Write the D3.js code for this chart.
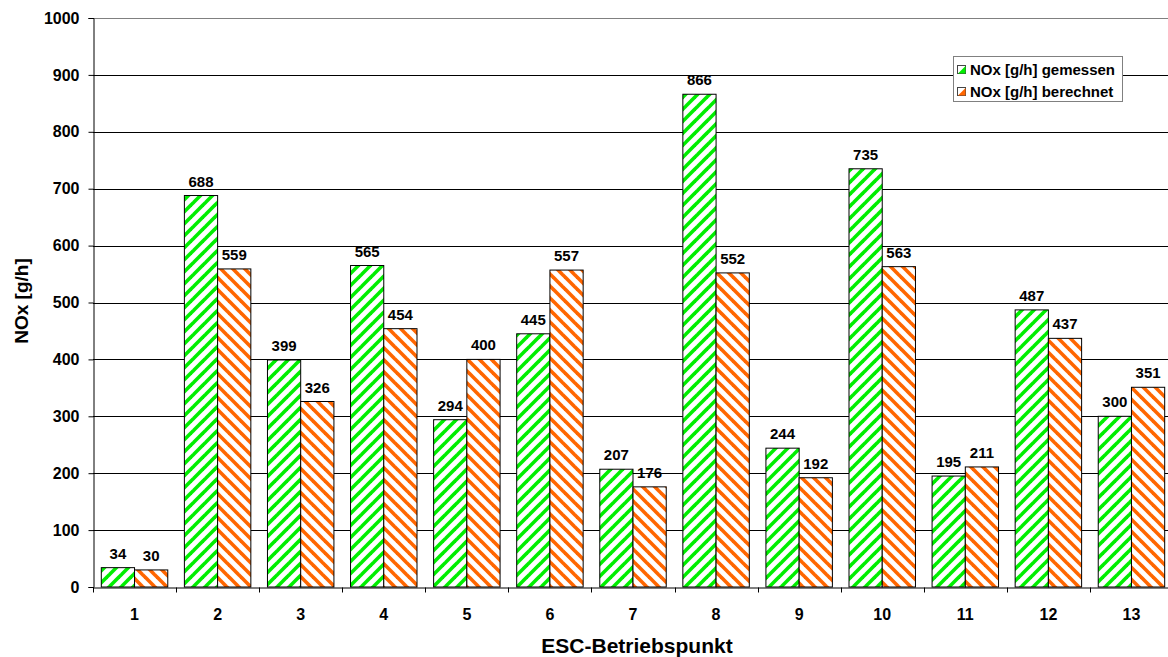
<!DOCTYPE html>
<html>
<head>
<meta charset="utf-8">
<script src="https://cdn.jsdelivr.net/npm/d3@7"></script>
<style>
  html, body { margin: 0; padding: 0; background: #fff; }
  svg { display: block; font-family: "Liberation Sans", Arial, sans-serif; font-weight: bold; }
</style>
</head>
<body>
<script>
// ESC operating points and NOx mass flow, measured vs. calculated
const categories = ["1","2","3","4","5","6","7","8","9","10","11","12","13"];
const gemessen   = [34, 688, 399, 565, 294, 445, 207, 866, 244, 735, 195, 487, 300];
const berechnet  = [30, 559, 326, 454, 400, 557, 176, 552, 192, 563, 211, 437, 351];
const seriesNames = ["NOx [g/h] gemessen", "NOx [g/h] berechnet"];
const yTicks = [0,100,200,300,400,500,600,700,800,900,1000];

const W = 1168, H = 657;
const margin = { left: 93, top: 18, right: 1173, bottom: 587 };
const FONT = "Liberation Sans, Arial, sans-serif";

const svg = d3.select("body").append("svg").attr("width", W).attr("height", H);

const defs = svg.append("defs");
function stripe(id, color, up) {
  const p = defs.append("pattern")
    .attr("id", id).attr("patternUnits", "userSpaceOnUse")
    .attr("width", 12).attr("height", 12);
  p.append("rect").attr("width", 12).attr("height", 12).attr("fill", "#fff");
  const g = p.append("g").attr("stroke", color).attr("stroke-width", 3.6);
  if (up) {
    g.append("line").attr("x1", -3).attr("y1", 15).attr("x2", 15).attr("y2", -3);
    g.append("line").attr("x1", -9).attr("y1", 9).attr("x2", 3).attr("y2", -3);
    g.append("line").attr("x1", 9).attr("y1", 15).attr("x2", 15).attr("y2", 9);
  } else {
    g.append("line").attr("x1", -3).attr("y1", -3).attr("x2", 15).attr("y2", 15);
    g.append("line").attr("x1", 9).attr("y1", -3).attr("x2", 15).attr("y2", 3);
    g.append("line").attr("x1", -3).attr("y1", 9).attr("x2", 3).attr("y2", 15);
  }
}
stripe("hatchGreen", "#00ee00", true);
stripe("hatchOrange", "#ff6600", false);

const x = d3.scaleBand().domain(categories).range([margin.left, margin.right]).paddingInner(0).paddingOuter(0);
const sub = d3.scaleBand().domain([0, 1]).range([0, x.bandwidth()]).paddingOuter(0.25).paddingInner(0);
const y = d3.scaleLinear().domain([0, 1000]).range([margin.bottom, margin.top]);

// gridlines
svg.append("g").selectAll("line").data(yTicks.filter(d => d > 0)).join("line")
  .attr("x1", margin.left).attr("x2", margin.right)
  .attr("y1", d => Math.round(y(d)) + 0.5).attr("y2", d => Math.round(y(d)) + 0.5)
  .attr("stroke", d => d === 1000 ? "#808080" : "#000").attr("stroke-width", 1);

// bars with value labels
const fills = ["url(#hatchGreen)", "url(#hatchOrange)"];
const series = [gemessen, berechnet];
series.forEach((vals, si) => {
  const g = svg.append("g");
  g.selectAll("rect").data(vals).join("rect")
    .attr("x", (d, i) => x(categories[i]) + sub(si))
    .attr("y", d => y(d))
    .attr("width", sub.bandwidth())
    .attr("height", d => y(0) - y(d))
    .attr("fill", fills[si])
    .attr("stroke", "#000").attr("stroke-width", 1);
  g.selectAll("text").data(vals).join("text")
    .attr("x", (d, i) => x(categories[i]) + sub(si) + sub.bandwidth() / 2)
    .attr("y", d => y(d) - 9)
    .attr("text-anchor", "middle")
    .style("font-size", "15px")
    .attr("fill", "#000")
    .text(d => d);
});

// y axis
const yAxis = d3.axisLeft(y).tickValues(yTicks).tickFormat(d3.format("d")).tickSize(5).tickPadding(9);
const ya = svg.append("g").attr("transform", `translate(${margin.left + 0.5},0)`).call(yAxis);
ya.select(".domain").attr("stroke", "#000");
ya.selectAll("text").style("font-size", "16px").style("font-weight", "bold").style("font-family", FONT);

// x axis
const xAxis = d3.axisBottom(x).tickSize(0).tickPadding(21);
const xa = svg.append("g").attr("transform", `translate(0,${margin.bottom + 0.5})`).call(xAxis);
xa.select(".domain").attr("stroke", "#000");
xa.selectAll("text").style("font-size", "16px").style("font-weight", "bold").style("font-family", FONT);
// category separator ticks
xa.append("g").selectAll("line").data(categories).join("line")
  .attr("x1", d => Math.round(x(d)) + 0.5).attr("x2", d => Math.round(x(d)) + 0.5)
  .attr("y1", 0).attr("y2", 5).attr("stroke", "#000");

// axis titles
svg.append("text").attr("x", 637).attr("y", 653).attr("text-anchor", "middle")
  .style("font-size", "21px").text("ESC-Betriebspunkt");
svg.append("text").attr("transform", "translate(28,301) rotate(-90)").attr("text-anchor", "middle")
  .style("font-size", "19px").text("NOx [g/h]");

// legend
const lg = svg.append("g").attr("transform", "translate(953,56)");
lg.append("rect").attr("x", 0.5).attr("y", 0.5).attr("width", 169).attr("height", 45)
  .attr("fill", "#fff").attr("stroke", "#808080");
const swatchColors = ["#00ee00", "#ff6600"];
seriesNames.forEach((name, i) => {
  const cy = 13 + i * 22;
  const s = lg.append("g").attr("transform", `translate(4,${cy - 4})`);
  s.append("rect").attr("x", 0.5).attr("y", 0.5).attr("width", 8).attr("height", 8).attr("fill", "#fff").attr("stroke", "#444");
  s.append("path").attr("d", "M1,8.5 L8.5,8.5 L8.5,1 Z").attr("fill", swatchColors[i]);
  lg.append("text").attr("x", 17).attr("y", cy + 5.5).style("font-size", "15px").text(name);
});
</script>
</body>
</html>
